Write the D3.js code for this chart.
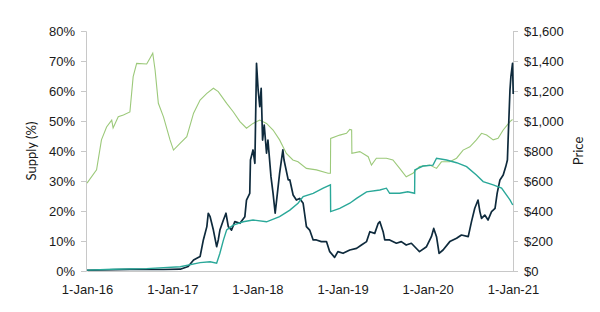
<!DOCTYPE html>
<html>
<head>
<meta charset="utf-8">
<script src="https://cdn.jsdelivr.net/npm/d3@7"></script>
<style>
  body { margin: 0; background: #fff; }
  svg { display: block; font-family: Lato, "Open Sans", sans-serif; }
  .tick text { fill: #1a1a1a; font-size: 13px; }
</style>
</head>
<body>
<svg id="canvas" width="600" height="312"></svg>
<script>
"use strict"

// supply share (%) - light green line
const supplyA = [
  ["2016-01-01", 29.3], ["2016-02-11", 33.7], ["2016-03-03", 43.7], ["2016-03-25", 48],
  ["2016-04-16", 50.3], ["2016-04-22", 47.7], ["2016-05-14", 51.4], ["2016-06-05", 52],
  ["2016-07-03", 53], ["2016-07-17", 64.8], ["2016-08-01", 69.2], ["2016-09-13", 69],
  ["2016-09-27", 70.9], ["2016-10-09", 72.6], ["2016-10-19", 67], ["2016-11-02", 55.9],
  ["2016-11-24", 51.4], ["2016-12-22", 43.7], ["2017-01-06", 40.3], ["2017-02-04", 42.6],
  ["2017-03-04", 44.8], ["2017-04-02", 52.6], ["2017-04-30", 57], ["2017-05-29", 59.2],
  ["2017-06-26", 60.9], ["2017-07-17", 59.8], ["2017-08-22", 55.9], ["2017-09-19", 53.1],
  ["2017-10-18", 49.8], ["2017-11-15", 47.6], ["2017-12-13", 49.2], ["2018-01-11", 50.3],
  ["2018-02-09", 49.2], ["2018-03-09", 47], ["2018-04-06", 43.7], ["2018-05-05", 39.2],
  ["2018-06-02", 37], ["2018-06-24", 36.4], ["2018-07-30", 34.2], ["2018-09-11", 33.7],
  ["2018-10-31", 32.6], ["2018-11-10", 32.6], ["2018-11-11", 44.2], ["2018-12-20", 45.3],
  ["2019-01-18", 45.9], ["2019-02-01", 47.2], ["2019-02-09", 47], ["2019-02-10", 39.2],
  ["2019-03-16", 39.8], ["2019-04-21", 38.1], ["2019-05-05", 35.3], ["2019-05-26", 37.6],
  ["2019-07-08", 37.6], ["2019-08-05", 37], ["2019-09-03", 34.2], ["2019-10-01", 31.4],
  ["2019-10-30", 32.6], ["2019-11-27", 34.8], ["2020-01-10", 35.3], ["2020-02-08", 34.2],
  ["2020-02-29", 36.4], ["2020-04-05", 36.4], ["2020-05-04", 37.6], ["2020-06-01", 40.3],
  ["2020-06-30", 41.4], ["2020-07-28", 43.7], ["2020-08-19", 45.9], ["2020-09-10", 45.3],
  ["2020-10-08", 43.7], ["2020-10-29", 44.2], ["2020-11-20", 47], ["2020-12-19", 49.8],
  ["2020-12-30", 50.5]
]

// supply share (%) - teal line
const supplyB = [
  ["2016-01-01", 0.3], ["2016-04-21", 0.6], ["2016-09-13", 0.8], ["2017-02-04", 1.4],
  ["2017-04-30", 2.8], ["2017-06-12", 3.1], ["2017-07-10", 2.6], ["2017-07-24", 5.9],
  ["2017-08-08", 10.3], ["2017-08-22", 13.7], ["2017-09-19", 15.3], ["2017-11-01", 16.4],
  ["2017-12-13", 17], ["2018-02-09", 16.4], ["2018-04-06", 18.1], ["2018-05-20", 20.3],
  ["2018-06-24", 22.6], ["2018-07-16", 24.8], ["2018-08-28", 25.9], ["2018-10-10", 27.6],
  ["2018-11-10", 28.7], ["2018-11-11", 19.8], ["2018-12-20", 20.9], ["2019-02-01", 22.6],
  ["2019-03-02", 24.2], ["2019-04-14", 26.4], ["2019-06-10", 27], ["2019-07-08", 27.6],
  ["2019-07-22", 25.9], ["2019-09-03", 25.9], ["2019-10-08", 26.4], ["2019-11-06", 25.9],
  ["2019-11-07", 33.7], ["2019-12-12", 35], ["2020-01-24", 35.3], ["2020-02-08", 37.6],
  ["2020-03-22", 37], ["2020-05-04", 36.1], ["2020-06-16", 34.8], ["2020-07-28", 32],
  ["2020-08-26", 29.8], ["2020-10-08", 28.7], ["2020-11-13", 27.6], ["2020-12-19", 23.7],
  ["2020-12-31", 22]
]

// price ($) - navy line
const price = [
  ["2016-01-01", 5], ["2016-07-03", 11], ["2016-11-24", 10], ["2017-02-04", 12],
  ["2017-03-10", 30], ["2017-04-02", 73], ["2017-04-30", 96], ["2017-05-14", 207],
  ["2017-05-29", 296], ["2017-06-04", 385], ["2017-06-12", 362], ["2017-06-26", 273],
  ["2017-07-10", 162], ["2017-07-17", 207], ["2017-07-24", 273], ["2017-08-08", 340],
  ["2017-08-19", 385], ["2017-08-29", 296], ["2017-09-12", 273], ["2017-09-26", 329],
  ["2017-10-18", 318], ["2017-11-08", 362], ["2017-11-15", 473], ["2017-11-29", 518],
  ["2017-12-02", 740], ["2017-12-13", 807], ["2017-12-21", 718], ["2017-12-28", 1385],
  ["2018-01-04", 1207], ["2018-01-11", 1095], ["2018-01-17", 1218], ["2018-01-23", 873],
  ["2018-01-30", 973], ["2018-02-09", 785], ["2018-02-15", 873], ["2018-02-28", 629],
  ["2018-03-09", 518], ["2018-03-18", 385], ["2018-04-06", 651], ["2018-04-20", 807],
  ["2018-04-25", 740], ["2018-05-13", 607], ["2018-05-20", 607], ["2018-06-03", 507],
  ["2018-06-17", 473], ["2018-07-01", 484], ["2018-07-16", 451], ["2018-07-22", 385],
  ["2018-07-30", 296], ["2018-08-13", 273], ["2018-08-28", 207], ["2018-09-11", 207],
  ["2018-10-02", 196], ["2018-10-24", 196], ["2018-11-07", 129], ["2018-11-28", 91],
  ["2018-12-12", 129], ["2019-01-03", 118], ["2019-02-01", 140], ["2019-03-02", 151],
  ["2019-03-23", 173], ["2019-04-14", 196], ["2019-04-28", 262], ["2019-05-19", 251],
  ["2019-06-03", 318], ["2019-06-10", 329], ["2019-06-24", 262], ["2019-07-01", 207],
  ["2019-07-22", 207], ["2019-08-20", 185], ["2019-09-10", 196], ["2019-10-01", 173],
  ["2019-10-23", 185], ["2019-11-20", 140], ["2019-11-27", 129], ["2019-12-27", 162],
  ["2020-01-17", 229], ["2020-01-27", 284], ["2020-02-08", 229], ["2020-02-19", 118],
  ["2020-03-07", 140], ["2020-04-05", 196], ["2020-05-04", 218], ["2020-05-25", 240],
  ["2020-06-23", 229], ["2020-07-07", 329], ["2020-07-21", 418], ["2020-08-04", 473],
  ["2020-08-12", 396], ["2020-08-19", 351], ["2020-09-02", 373], ["2020-09-16", 340],
  ["2020-10-01", 396], ["2020-10-16", 418], ["2020-10-25", 518], ["2020-11-06", 607],
  ["2020-11-20", 640], ["2020-12-01", 696], ["2020-12-08", 740], ["2020-12-11", 873],
  ["2020-12-19", 1207], ["2020-12-23", 1296], ["2020-12-30", 1385], ["2021-01-02", 1180]
]

const xTicks = ["2016-01-01", "2017-01-01", "2018-01-01", "2019-01-01", "2020-01-01", "2021-01-01"]
const supplyTicks = [0, 10, 20, 30, 40, 50, 60, 70, 80]
const priceTicks = [0, 200, 400, 600, 800, 1000, 1200, 1400, 1600]

const parse = d3.timeParse("%Y-%m-%d")

const margin = { left: 87, right: 87, top: 31, bottom: 41 }
const width = 600, height = 312

const svg = d3.select("#canvas")

const x = d3.scaleTime()
  .domain([parse(xTicks[0]), parse(xTicks[xTicks.length - 1])])
  .range([margin.left, width - margin.right])

const yL = d3.scaleLinear().domain([0, 80]).range([height - margin.bottom, margin.top])
const yR = d3.scaleLinear().domain([0, 1600]).range([height - margin.bottom, margin.top])

// axes
const gL = svg.append("g")
  .attr("transform", `translate(${margin.left - 1},0)`)
  .call(d3.axisLeft(yL).tickValues(supplyTicks).tickSize(5).tickPadding(6).tickFormat(d => d + "%"))
const gR = svg.append("g")
  .attr("transform", `translate(${width - margin.right},0)`)
  .call(d3.axisRight(yR).tickValues(priceTicks).tickSize(5).tickPadding(6).tickFormat(d3.format("$,")))
const gB = svg.append("g")
  .attr("transform", `translate(0,${height - margin.bottom})`)
  .call(d3.axisBottom(x).tickValues(xTicks.map(parse)).tickSize(0).tickPadding(14).tickFormat(d3.timeFormat("%-d-%b-%y")))

;[gL, gR, gB].forEach(g => {
  g.select(".domain").attr("stroke", "#c8c8c8")
  g.selectAll(".tick line").attr("stroke", "#c8c8c8")
})

svg.append("text")
  .attr("transform", `translate(36,${(margin.top + height - margin.bottom) / 2}) rotate(-90)`)
  .attr("text-anchor", "middle")
  .style("font-size", "13px").attr("fill", "#1a1a1a")
  .text("Supply (%)")

svg.append("text")
  .attr("transform", `translate(583,${(margin.top + height - margin.bottom) / 2}) rotate(-90)`)
  .attr("text-anchor", "middle")
  .style("font-size", "13px").attr("fill", "#1a1a1a")
  .text("Price")

// lines
const lineL = d3.line().x(d => x(parse(d[0]))).y(d => yL(d[1]))
const lineR = d3.line().x(d => x(parse(d[0]))).y(d => yR(d[1]))

svg.append("path").datum(supplyA)
  .attr("d", lineL).attr("fill", "none")
  .attr("stroke", "#9cc97a").attr("stroke-width", 1.1)

svg.append("path").datum(price)
  .attr("d", lineR).attr("fill", "none")
  .attr("stroke", "#0e2a3c").attr("stroke-width", 1.7).attr("stroke-linejoin", "round")

svg.append("path").datum(supplyB)
  .attr("d", lineL).attr("fill", "none")
  .attr("stroke", "#2aa899").attr("stroke-width", 1.4)
</script>
</body>
</html>
